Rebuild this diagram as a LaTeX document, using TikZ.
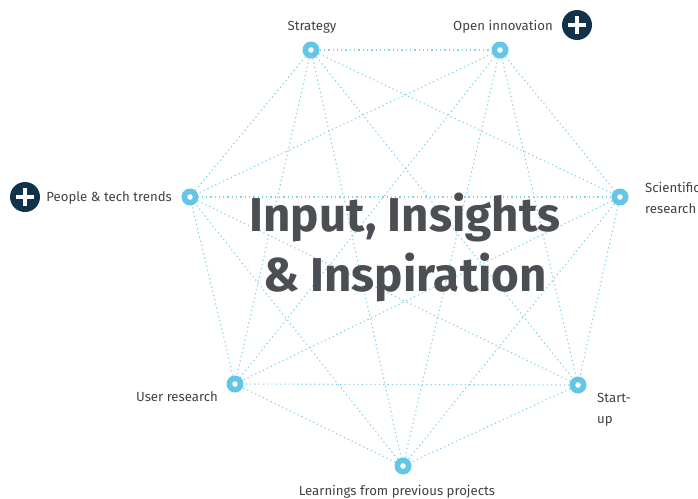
\documentclass[tikz,border=0pt]{standalone}
\usepackage{fontspec}
\setmainfont{Fira Sans}
\newfontfamily\titlefont{Fira Sans}
\definecolor{hubblue}{HTML}{64C6E6}
\definecolor{linkblue}{HTML}{86D2EA}
\definecolor{labelgray}{HTML}{3F4347}
\definecolor{titlegray}{HTML}{4B4E52}
\definecolor{plusnavy}{HTML}{10324A}
\begin{document}
\begin{tikzpicture}[x=1pt,y=-1pt,
  hub/.style={circle,fill=hubblue,minimum size=17pt,inner sep=0pt},
  hubcore/.style={circle,fill=white,minimum size=5.5pt,inner sep=0pt},
  link/.style={draw=linkblue,line width=1.1pt,dash pattern=on 1.3pt off 3pt},
  lbl/.style={text=labelgray,font=\fontsize{13.2}{21}\selectfont,inner sep=0pt},
  plusicon/.style={circle,fill=plusnavy,minimum size=30pt,inner sep=0pt}]
\useasboundingbox (0,0) rectangle (698,498);
\fill[white] (0,0) rectangle (698,498);
% hub positions
\coordinate (s) at (311,50);
\coordinate (o) at (500,50);
\coordinate (r) at (620,197);
\coordinate (u) at (578,385);
\coordinate (l) at (403,466);
\coordinate (ur) at (235,384);
\coordinate (p) at (190,197);
% every hub is linked to every other
\foreach \a/\b in {s/o,s/r,s/u,s/l,s/ur,s/p,o/r,o/u,o/l,o/ur,o/p,r/u,r/l,r/ur,r/p,u/l,u/ur,u/p,l/ur,l/p,ur/p}
  \draw[link] (\a) -- (\b);
% title
\node[text=titlegray,font=\titlefont\bfseries\fontsize{47.5}{60}\selectfont,align=center,inner sep=0pt] (title) at (405,248) {Input, Insights\\\& Inspiration};
% hubs
\foreach \n in {s,o,r,u,l,ur,p} {
  \node[hub] (h\n) at (\n) {};
  \node[hubcore] at (\n) {};
}
% labels (two-line labels are placed by the baseline of their last line)
\node[lbl,anchor=base] (ls) at (312,30) {Strategy};
\node[lbl,anchor=base] (lo) at (503,30) {Open innovation};
\node[lbl,anchor=base east] (lp) at (172,201) {People \& tech trends};
\node[lbl,anchor=base west,align=left] (lr) at (645,213) {Scientific\\research};
\node[lbl,anchor=base east] (lur) at (218,401) {User research};
\node[lbl,anchor=base west,align=left] (lu) at (597,423) {Start-\\up};
\node[lbl,anchor=base] (ll) at (397,495) {Learnings from previous projects};
% plus icons
\foreach \c/\nm in {{(577,25)}/plusa,{(25,197)}/plusb} {
  \node[plusicon] (\nm) at \c {};
  \fill[white] ([xshift=-2.2pt,yshift=-9pt]\nm.center) rectangle ([xshift=2.2pt,yshift=9pt]\nm.center);
  \fill[white] ([xshift=-9pt,yshift=-2.2pt]\nm.center) rectangle ([xshift=9pt,yshift=2.2pt]\nm.center);
}
\end{tikzpicture}
\end{document}
